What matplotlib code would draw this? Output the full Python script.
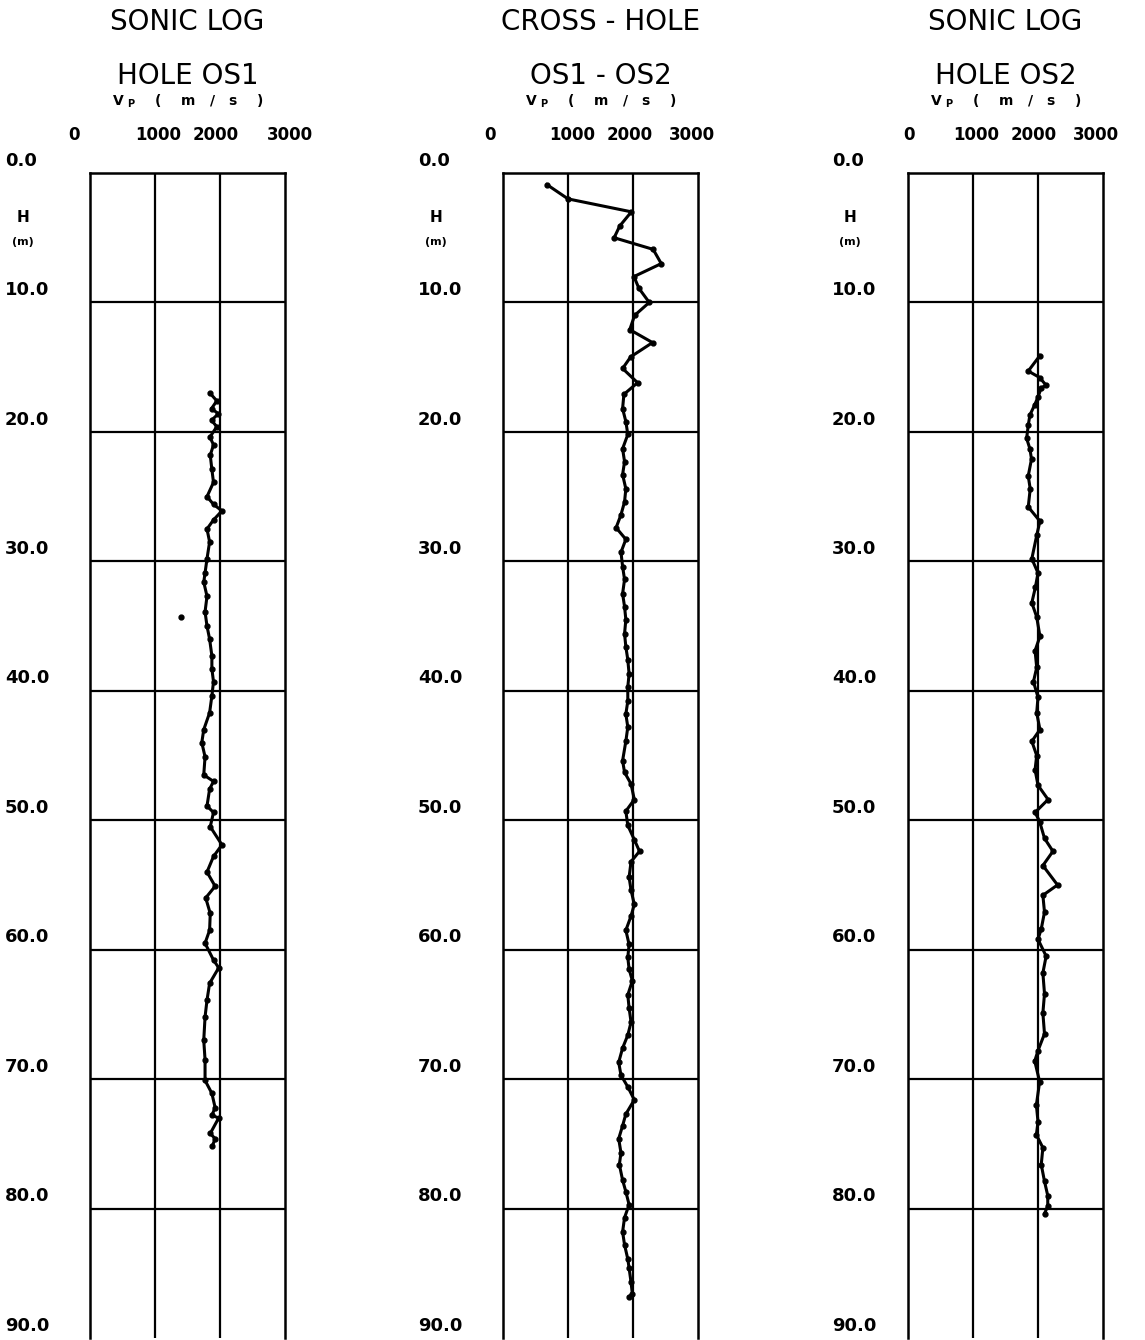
import numpy as np
import matplotlib.pyplot as plt
from matplotlib.transforms import blended_transform_factory

plt.rcParams['font.family'] = ['DejaVu Sans']
plt.rcParams['mathtext.fontset'] = 'dejavusans'

# ---- data (depth in m, Vp in m/s) ----
os1_depth = [17.0, 17.6, 18.2, 18.6, 19.1, 19.6, 20.4, 21.0, 21.8, 22.9, 23.9,
             25.0, 25.6, 26.1, 26.8, 27.5, 28.5, 29.8, 30.9, 31.6, 32.7, 33.9,
             35.0, 36.0, 37.3, 38.3, 39.3, 40.4, 41.7, 43.0, 44.0, 45.1, 46.5,
             47.0, 47.6, 48.9, 49.4, 50.5, 51.9, 52.8, 54.0, 55.1, 56.0, 57.2,
             58.5, 59.5, 60.8, 61.4, 62.6, 63.9, 65.2, 67.0, 68.5, 70.1, 71.1,
             72.2, 72.8, 73.0, 74.2, 74.6, 75.2]
os1_vp = [1845, 1950, 1870, 1975, 1870, 1950, 1845, 1900, 1850, 1875, 1900,
          1800, 1900, 2030, 1900, 1800, 1840, 1800, 1770, 1750, 1800, 1770,
          1800, 1840, 1875, 1875, 1900, 1875, 1840, 1750, 1720, 1770, 1750,
          1900, 1840, 1800, 1900, 1850, 2030, 1900, 1800, 1925, 1780, 1850,
          1840, 1770, 1900, 1980, 1840, 1800, 1770, 1750, 1770, 1770, 1875,
          1925, 1875, 1980, 1850, 1925, 1880]
os1_outlier_depth = [34.3]
os1_outlier_vp = [1400]

cross_depth = [0.9, 2.0, 3.0, 4.1, 5.0, 5.9, 7.0, 8.0, 8.9, 10.0, 11.0, 12.1,
               13.1, 14.2, 15.1, 16.2, 17.1, 18.2, 19.2, 20.2, 21.3, 22.3, 23.3,
               24.4, 25.4, 26.4, 27.4, 28.3, 29.3, 30.4, 31.4, 32.5, 33.5, 34.5,
               35.6, 36.6, 37.6, 38.7, 39.7, 40.8, 41.8, 42.8, 43.9, 45.4, 46.3,
               47.2, 48.4, 49.3, 50.4, 51.5, 52.4, 53.2, 54.4, 55.4, 56.5, 57.4,
               58.5, 59.6, 60.6, 61.5, 62.4, 63.5, 64.5, 65.6, 66.6, 67.6, 68.7,
               69.7, 70.6, 71.6, 72.7, 73.6, 74.6, 75.7, 76.6, 77.8, 78.7, 79.7,
               80.7, 81.8, 82.8, 83.9, 84.6, 85.7, 86.6, 86.8]
cross_vp = [677, 1000, 1975, 1795, 1710, 2310, 2435, 2015, 2090, 2250, 2025, 1950,
            2300, 1965, 1840, 2070, 1860, 1840, 1890, 1920, 1840, 1870, 1840,
            1890, 1870, 1815, 1740, 1890, 1815, 1840, 1870, 1840, 1870, 1890,
            1870, 1890, 1920, 1940, 1920, 1920, 1890, 1920, 1890, 1840, 1870,
            1970, 2020, 1890, 1920, 2020, 2100, 1970, 1940, 1970, 2020, 1970,
            1890, 1940, 1920, 1940, 1990, 1920, 1940, 1970, 1920, 1840, 1780,
            1815, 1920, 2020, 1890, 1840, 1780, 1815, 1790, 1840, 1890, 1940,
            1870, 1840, 1870, 1920, 1940, 1970, 1990, 1940]

os2_depth = [14.1, 15.3, 15.8, 16.4, 16.6, 17.3, 17.9, 18.7, 19.5, 20.5, 21.3,
             22.1, 23.4, 24.4, 25.8, 26.9, 28.0, 29.8, 30.9, 32.0, 33.2, 34.3,
             35.8, 36.9, 38.2, 39.3, 40.5, 41.7, 43.0, 43.9, 45.0, 46.1, 47.3,
             48.4, 49.4, 50.1, 51.4, 52.4, 53.5, 55.0, 55.8, 57.1, 58.4, 59.2,
             60.5, 61.8, 63.4, 64.9, 66.5, 67.8, 68.6, 70.2, 72.0, 73.3, 74.3,
             75.3, 76.6, 77.9, 79.0, 79.8, 80.4]
os2_vp = [2030, 1850, 2025, 2125, 2050, 2000, 1950, 1875, 1850, 1825, 1875,
          1900, 1850, 1880, 1850, 2030, 1980, 1905, 2000, 1960, 1905, 1980,
          2030, 1955, 1980, 1930, 2000, 1980, 2030, 1905, 1980, 1955, 2000,
          2155, 1955, 2025, 2100, 2230, 2075, 2300, 2075, 2100, 2050, 2000,
          2125, 2075, 2100, 2075, 2100, 2000, 1950, 2025, 1975, 2000, 1975,
          2075, 2050, 2100, 2150, 2150, 2100]

titles1 = ["SONIC LOG", "CROSS - HOLE", "SONIC LOG"]
titles2 = ["HOLE OS1", "OS1 - OS2", "HOLE OS2"]
vp_ticks = [0, 1000, 2000, 3000]
depth_ticks = [0, 10, 20, 30, 40, 50, 60, 70, 80, 90]

series = [(os1_depth, os1_vp), (cross_depth, cross_vp), (os2_depth, os2_vp)]

# ---- layout (pixels) ----
W, H = 1145, 1340
box_left = [90, 503, 908]
box_w = 195
box_top, box_bot = 173, 1338
ylab_x = [5, 418, 832]
# x positions of the printed Vp labels (in m/s units, offset like the plotter did)
vp_lab_pos = [[-250, 1050, 1940, 3080],
              [-200, 1060, 1950, 2910],
              [10, 1050, 1940, 2890]]

fig = plt.figure(figsize=(W / 100, H / 100), dpi=100)

for i in range(3):
    ax = fig.add_axes([box_left[i] / W, 1 - box_bot / H, box_w / W,
                       (box_bot - box_top) / H])
    ax.set_xlim(0, 3000)
    ax.set_ylim(90, 0)
    ax.set_xticks([])
    ax.set_yticks([])
    for s in ['top', 'left', 'right']:
        ax.spines[s].set_linewidth(1.8)
    ax.spines['bottom'].set_visible(False)
    for v in [1000, 2000]:
        ax.axvline(v, color='black', lw=1.6, zorder=1)
    for d in depth_ticks[1:-1]:
        ax.axhline(d, color='black', lw=1.6, zorder=1)

    d, v = series[i]
    ax.plot(v, d, color='black', lw=2.2, marker='o', ms=3.5, zorder=3)
    if i == 0:
        ax.plot(os1_outlier_vp, os1_outlier_depth, 'o', color='black', ms=3.5,
                zorder=3)

    cx = (box_left[i] + box_w / 2) / W
    fig.text(cx, 1 - 22 / H, titles1[i], ha='center', va='center',
             fontsize=20)
    fig.text(cx, 1 - 76 / H, titles2[i], ha='center', va='center',
             fontsize=20)
    fig.text(cx, 1 - 101 / H, r"V $_{\mathbf{P}}$    (    m   /   s    )",
             ha='center', va='center', fontsize=10, fontweight='bold')

    # Vp labels above the box
    tr_x = blended_transform_factory(ax.transData, fig.transFigure)
    for pos, t in zip(vp_lab_pos[i], vp_ticks):
        ax.text(pos, 1 - 135 / H, str(t), transform=tr_x, ha='center',
                va='center', fontsize=12, fontweight='bold', clip_on=False)

    # depth labels on the left
    tr_y = blended_transform_factory(fig.transFigure, ax.transData)
    for dt in depth_ticks:
        ax.text(ylab_x[i] / W, dt - 0.95, f"{dt:.1f}", transform=tr_y,
                ha='left', va='center', fontsize=13, fontweight='bold',
                clip_on=False)
    ax.text((ylab_x[i] + 18) / W, 3.4, "H", transform=tr_y, ha='center',
            va='center', fontsize=11, fontweight='bold', clip_on=False)
    ax.text((ylab_x[i] + 18) / W, 5.3, "(m)", transform=tr_y, ha='center',
            va='center', fontsize=8, fontweight='bold', clip_on=False)

fig.savefig("out.png", dpi=100, facecolor='white')
